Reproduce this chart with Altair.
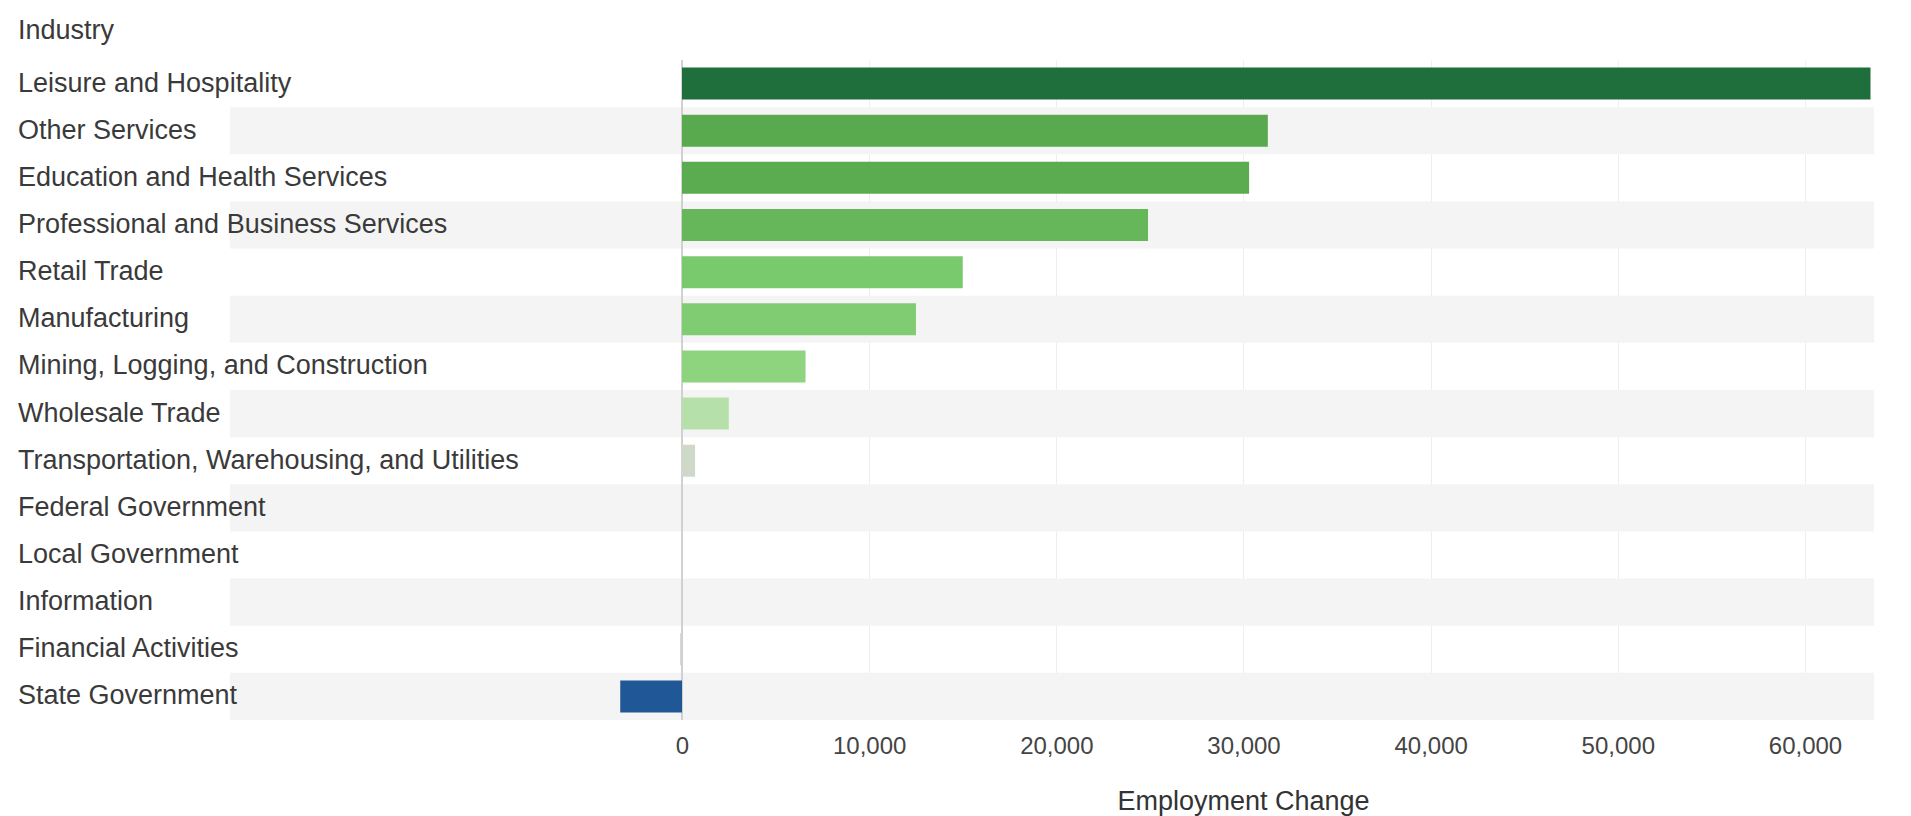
import altair as alt
import pandas as pd

industries = [
    "Leisure and Hospitality",
    "Other Services",
    "Education and Health Services",
    "Professional and Business Services",
    "Retail Trade",
    "Manufacturing",
    "Mining, Logging, and Construction",
    "Wholesale Trade",
    "Transportation, Warehousing, and Utilities",
    "Federal Government",
    "Local Government",
    "Information",
    "Financial Activities",
    "State Government",
]
changes = [63500, 31300, 30300, 24900, 15000, 12500, 6600, 2500, 700, 0, 0, 0, -100, -3300]
tick_values = [0, 10000, 20000, 30000, 40000, 50000, 60000]

df = pd.DataFrame({"Industry": industries, "Change": changes})
df["band"] = [i % 2 for i in range(len(industries))]

W = 1866
H = 660
FONT = "Liberation Sans"
FS = 27

x_scale = alt.Scale(domain=[-36011, 63687], nice=False, zero=False)
y_scale = alt.Scale(domain=industries, paddingInner=0, paddingOuter=0)

x_axis = alt.Axis(values=tick_values, labelExpr="format(datum.value, ',')", grid=True, gridColor="#eeeeee",
                  domain=False, ticks=False, labelFontSize=24, labelPadding=14,
                  labelColor="#444", labelFont=FONT,
                  title="Employment Change", titleFontSize=FS, titleFont=FONT,
                  titleFontWeight="normal", titleColor="#333", titlePadding=30,
                  titleX=1235, titleAlign="center", titleAnchor="start")

bands = alt.Chart(df).transform_filter("datum.band == 1").mark_rect(color="#f4f4f4").encode(
    y=alt.Y("Industry:N", scale=y_scale, axis=None),
    x=alt.value(222),
    x2=alt.value(W),
)

grid = alt.Chart(df).mark_bar(opacity=0).encode(
    x=alt.X("Change:Q", scale=x_scale, axis=x_axis),
    y=alt.Y("Industry:N", scale=y_scale, axis=None),
)

zero_rule = alt.Chart(pd.DataFrame({"z": [0]})).mark_rule(color="#c4c4c4", strokeWidth=1.5).encode(
    x=alt.X("z:Q", scale=x_scale, axis=x_axis),
)

bars = alt.Chart(df).mark_bar(size=32).encode(
    x=alt.X("Change:Q", scale=x_scale, axis=x_axis),
    y=alt.Y("Industry:N", scale=y_scale, axis=None),
    color=alt.Color(
        "Change:Q",
        scale=alt.Scale(
            domain=[-3300, 0, 2500, 6600, 15000, 31000, 63500],
            range=["#1f5797", "#d6d6d6", "#b6e0aa", "#8ed37e", "#79c96d", "#5aaa4f", "#1f6f3c"],
        ),
        legend=None,
    ),
)

labels = alt.Chart(df).mark_text(align="left", baseline="middle", fontSize=FS, font=FONT, color="#3a3a3a").encode(
    y=alt.Y("Industry:N", scale=y_scale, axis=None),
    x=alt.value(10),
    text="Industry:N",
)

header = alt.Chart(pd.DataFrame({"t": ["Industry"]})).mark_text(
    align="left", baseline="middle", fontSize=FS, font=FONT, color="#3a3a3a"
).encode(x=alt.value(10), y=alt.value(-29), text="t:N")

chart = alt.layer(bands, grid, zero_rule, bars, labels, header).properties(
    width=W, height=H,
    autosize=alt.AutoSizeParams(type="none"),
    padding={"left": 0, "top": 52, "right": 20, "bottom": 100},
    background="white",
).configure_view(stroke=None)

chart.save("out.html", embed_options={"renderer": "svg", "actions": False})
